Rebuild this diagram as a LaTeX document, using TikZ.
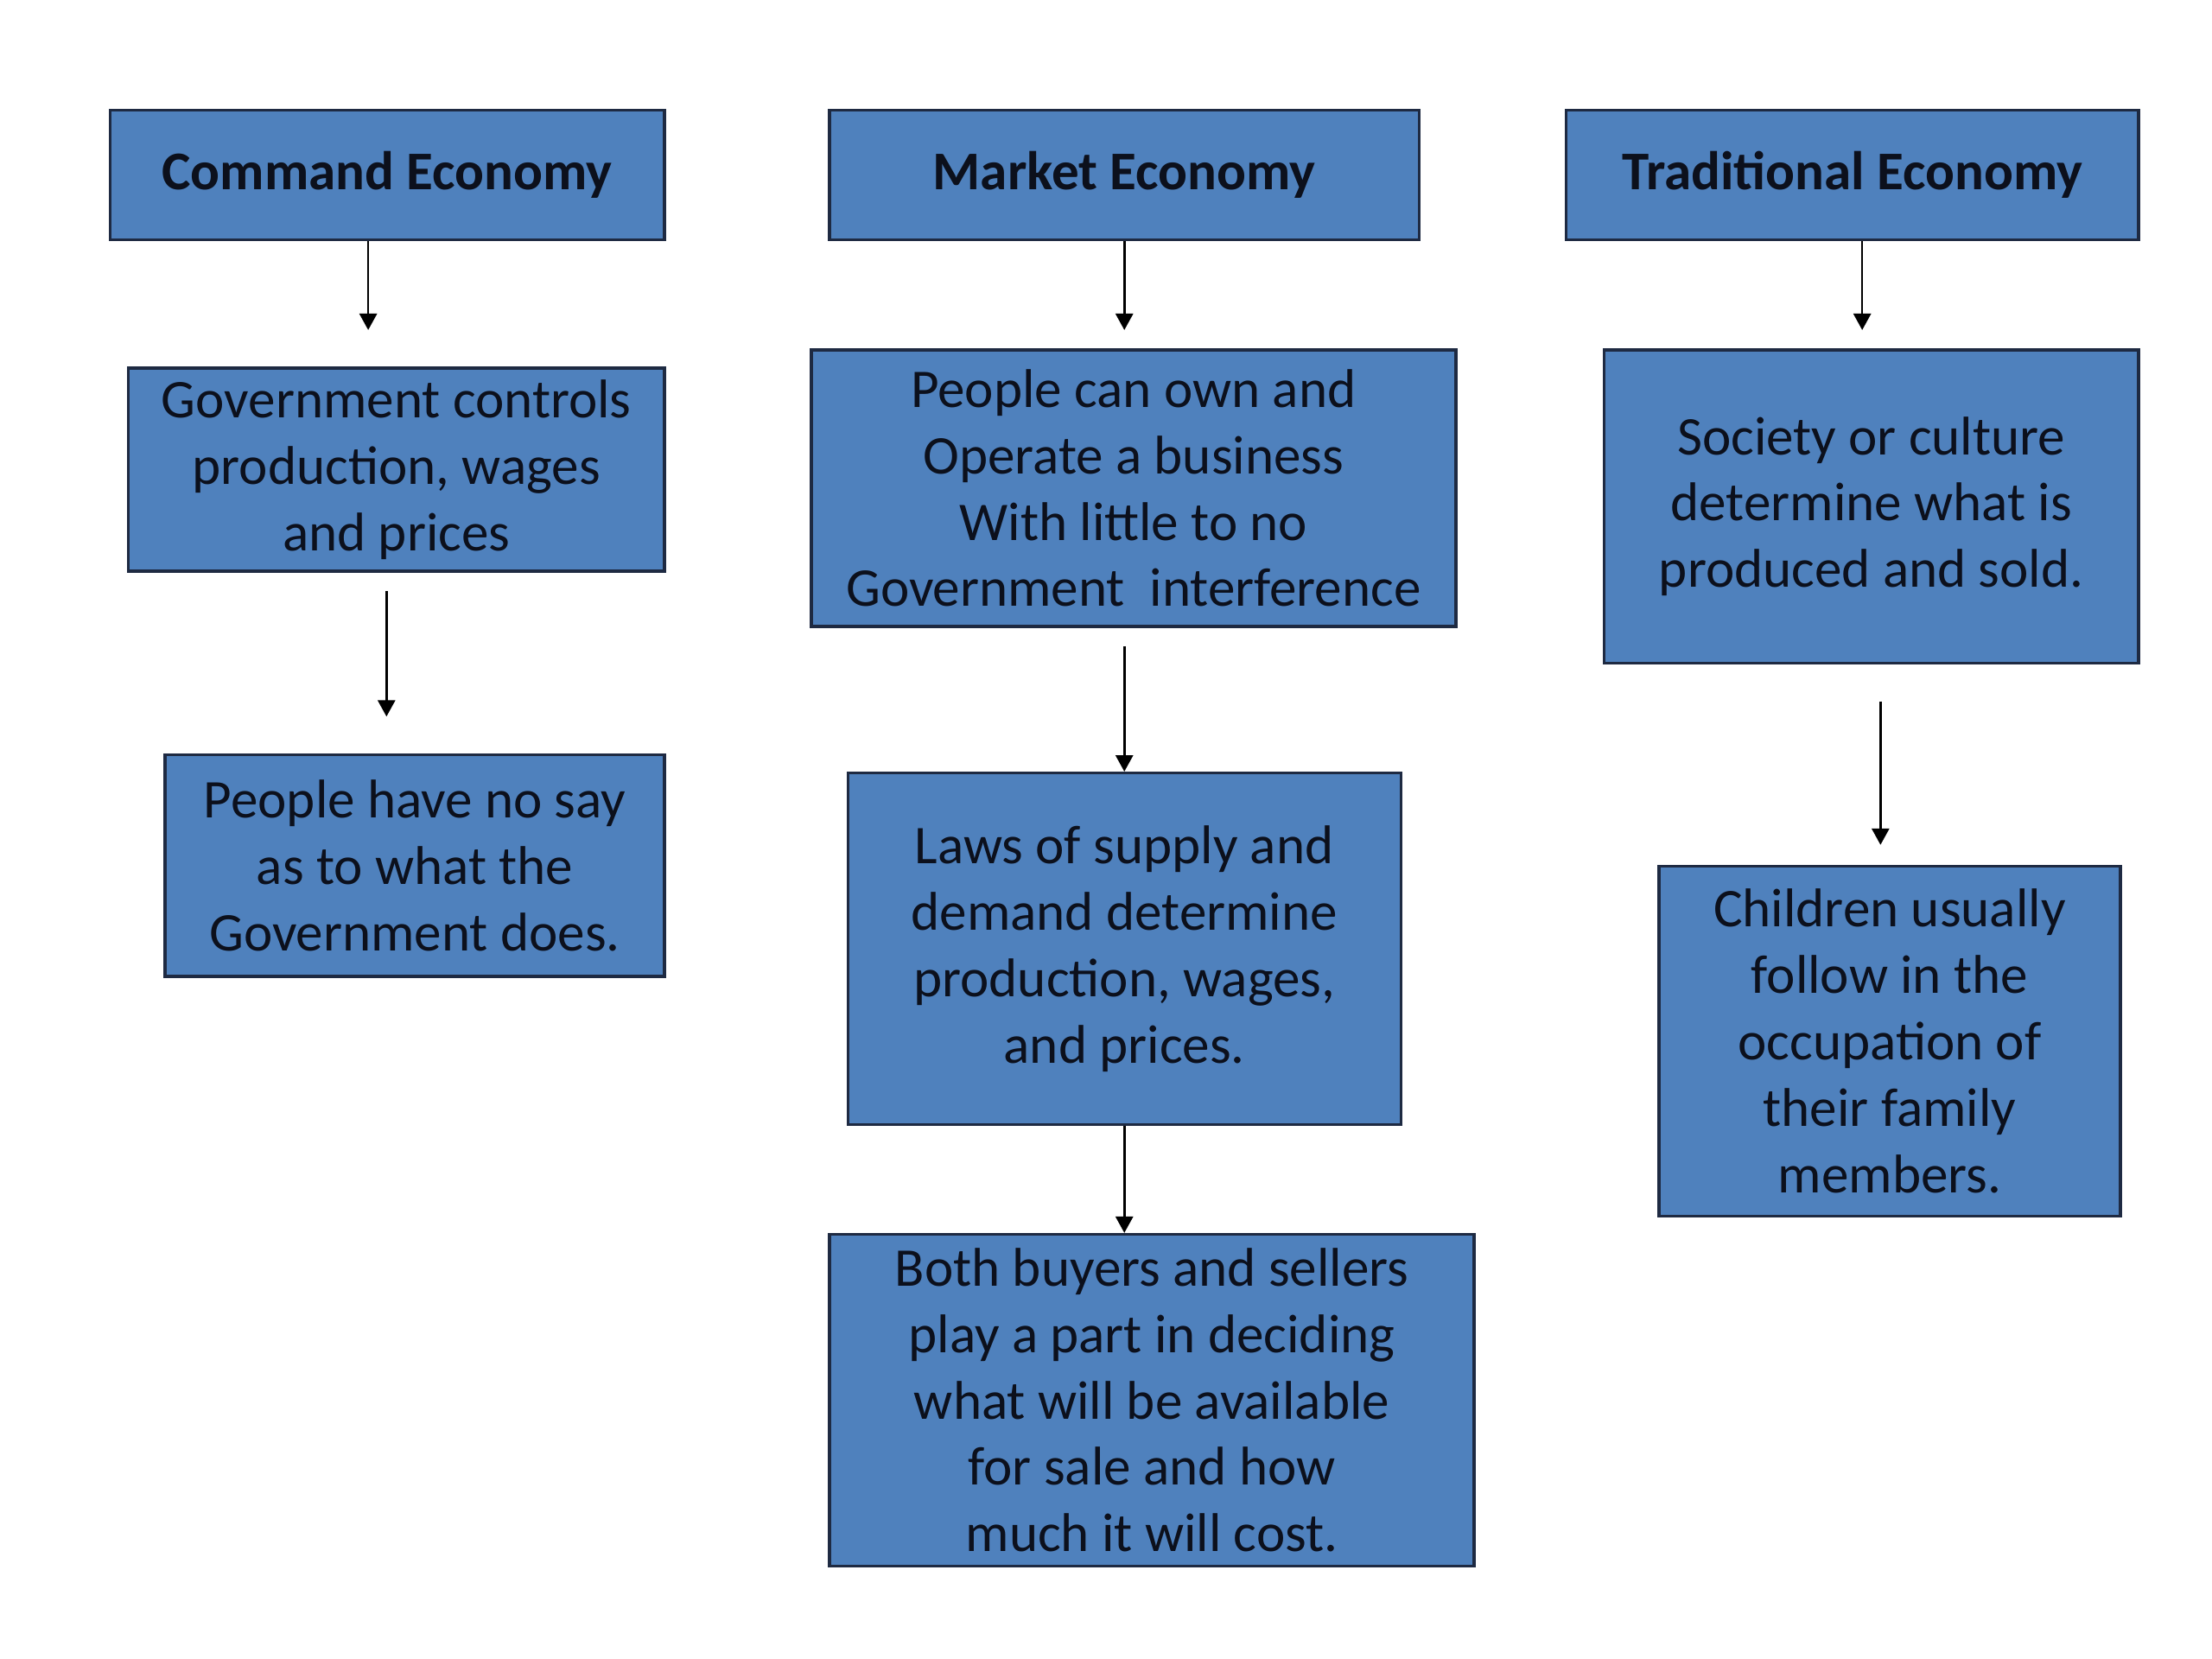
\documentclass[tikz,border=0pt]{standalone}
\usepackage{fontspec}
\setmainfont{Carlito}
\usetikzlibrary{arrows.meta}
\definecolor{boxblue}{RGB}{79,129,189}
\definecolor{boxedge}{RGB}{30,42,66}
\definecolor{inktext}{RGB}{12,16,28}
\tikzstyle{economy}=[
	rectangle,
	draw=boxedge,
	line width=0.6pt,
	fill=boxblue,
	text=inktext,
	align=center,
	inner sep=0pt,
	font=\fontsize{11}{13.4}\selectfont\bfseries
]
\tikzstyle{feature}=[
	economy,
	font=\fontsize{11}{13.4}\selectfont
]
\tikzstyle{flow}=[
	-{Triangle[length=3.3pt,width=3.5pt]},
	line width=0.45pt
]

\begin{document}
\begin{tikzpicture}[x=0.2845pt,y=-0.2845pt]
\useasboundingbox (0,0) rectangle (1568,1176);
% top row
\node [economy, minimum width=393*0.2845pt, minimum height=92*0.2845pt] (Command) at (274.5,124) {Command Economy};
\node [economy, minimum width=418*0.2845pt, minimum height=92*0.2845pt] (Market) at (797,124) {Market Economy};
\node [economy, minimum width=406*0.2845pt, minimum height=92*0.2845pt] (Traditional) at (1313,124) {Traditional Economy};
% command column
\node [feature, minimum width=380*0.2845pt, minimum height=144*0.2845pt] (GovControls) at (281,333) {Government controls\\production, wages\\and prices};
\node [feature, minimum width=354*0.2845pt, minimum height=157*0.2845pt] (NoSay) at (294,613.5) {People have no say\\as to what the\\Government does.};
% market column
\node [feature, minimum width=457*0.2845pt, minimum height=196*0.2845pt] (OwnBusiness) at (803.5,346) {People can own and\\Operate a business\\With little to no\\Government~ interference};
\node [feature, minimum width=392*0.2845pt, minimum height=249*0.2845pt] (SupplyDemand) at (797,672.5) {Laws of supply and\\demand determine\\production, wages,\\and prices.};
\node [feature, minimum width=457*0.2845pt, minimum height=235*0.2845pt] (BuyersSellers) at (816.5,992.5) {Both buyers and sellers\\play a part in deciding\\what will be available\\for sale and how\\much it will cost.};
% traditional column
\node [feature, minimum width=379*0.2845pt, minimum height=222*0.2845pt] (Society) at (1326.5,359) {Society or culture\\determine what is\\produced and sold.};
\node [feature, minimum width=327*0.2845pt, minimum height=248*0.2845pt] (Children) at (1339.5,738) {Children usually\\follow in the\\occupation of\\their family\\members.};

\draw [flow, shorten >=7.4pt] ([xshift=-3.84pt]Command.south) -- ([xshift=-3.84pt]Command.south |- GovControls.north);
\draw [flow, shorten <=3.7pt, shorten >=7.4pt] ([xshift=-2pt]GovControls.south) -- ([xshift=-2pt]GovControls.south |- NoSay.north);
\draw [flow, shorten >=3.7pt] (Market.south) -- (Market.south |- OwnBusiness.north);
\draw [flow, shorten <=3.7pt] (OwnBusiness.south -| SupplyDemand.north) -- (SupplyDemand.north);
\draw [flow] (SupplyDemand.south) -- (SupplyDemand.south |- BuyersSellers.north);
\draw [flow, shorten >=3.7pt] ([xshift=2pt]Traditional.south) -- ([xshift=2pt]Traditional.south |- Society.north);
\draw [flow, shorten <=7.4pt, shorten >=4pt] ([xshift=1.85pt]Society.south) -- ([xshift=1.85pt]Society.south |- Children.north);
\end{tikzpicture}
\end{document}
